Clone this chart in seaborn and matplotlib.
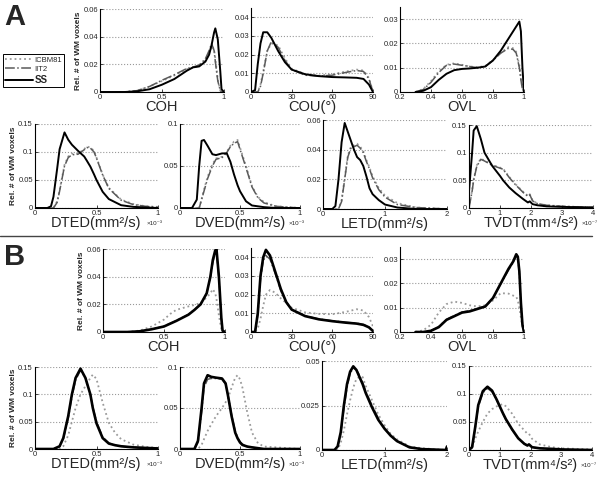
import matplotlib
matplotlib.use("Agg")
import matplotlib.pyplot as plt
from matplotlib.lines import Line2D
import seaborn as sns

# -----------------------------
# DATA
# each panel: shared x grid + one y list per template
# -----------------------------
groups = ["ICBM81", "IIT2", "SS"]

# ---- A, top row ----
a_coh_x = [0, 0.2, 0.3, 0.4, 0.5, 0.6, 0.7, 0.75, 0.8, 0.85, 0.88, 0.9, 0.92, 0.93, 0.95, 0.97, 0.98, 1.0]
a_coh_icbm = [0, 0, 0.001, 0.004, 0.008, 0.012, 0.0165, 0.0175, 0.019, 0.023, 0.028, 0.033, 0.031, 0.024, 0.009, 0.001, 0, 0]
a_coh_iit2 = [0, 0, 0.001, 0.004, 0.0085, 0.0125, 0.017, 0.018, 0.0195, 0.024, 0.030, 0.035, 0.030, 0.022, 0.008, 0.001, 0, 0]
a_coh_ss = [0, 0, 0.0005, 0.002, 0.0053, 0.0094, 0.0154, 0.0178, 0.0185, 0.022, 0.027, 0.034, 0.043, 0.046, 0.038, 0.015, 0.002, 0]

a_cou_x = [0, 3, 5, 7, 9, 12, 15, 20, 25, 30, 40, 50, 60, 70, 78, 83, 87, 90]
a_cou_icbm = [0, 0, 0, 0.004, 0.011, 0.022, 0.026, 0.025, 0.018, 0.0125, 0.0095, 0.0088, 0.0095, 0.011, 0.012, 0.0115, 0.0075, 0]
a_cou_iit2 = [0, 0, 0, 0.003, 0.010, 0.022, 0.027, 0.024, 0.017, 0.012, 0.009, 0.0085, 0.009, 0.0105, 0.0115, 0.011, 0.007, 0]
a_cou_ss = [0, 0.001, 0.015, 0.026, 0.032, 0.032, 0.029, 0.022, 0.016, 0.012, 0.0095, 0.0085, 0.008, 0.0078, 0.0076, 0.007, 0.004, 0]

a_ovl_x = [0.3, 0.35, 0.4, 0.45, 0.5, 0.55, 0.6, 0.65, 0.7, 0.75, 0.8, 0.85, 0.9, 0.93, 0.95, 0.97, 0.98, 0.99, 1.0]
a_ovl_icbm = [0, 0.0012, 0.0045, 0.0085, 0.0112, 0.0118, 0.0112, 0.0105, 0.0102, 0.0107, 0.0132, 0.0162, 0.0185, 0.018, 0.0165, 0.011, 0.006, 0.0015, 0]
a_ovl_iit2 = [0, 0.001, 0.004, 0.008, 0.011, 0.0115, 0.011, 0.0105, 0.010, 0.0105, 0.013, 0.016, 0.018, 0.0175, 0.016, 0.010, 0.005, 0.001, 0]
a_ovl_ss = [0, 0.0005, 0.002, 0.005, 0.0075, 0.009, 0.0095, 0.0097, 0.010, 0.0105, 0.013, 0.017, 0.022, 0.025, 0.027, 0.029, 0.025, 0.010, 0]

# ---- A, bottom row ----
a_dted_x = [0, 0.1, 0.13, 0.15, 0.18, 0.2, 0.24, 0.27, 0.3, 0.35, 0.4, 0.42, 0.45, 0.48, 0.5, 0.55, 0.6, 0.7, 0.8, 0.9, 1.0]
a_dted_icbm = [0, 0, 0, 0, 0.012, 0.032, 0.077, 0.092, 0.097, 0.097, 0.105, 0.110, 0.108, 0.102, 0.090, 0.060, 0.036, 0.015, 0.007, 0.003, 0.002]
a_dted_iit2 = [0, 0, 0, 0, 0.010, 0.030, 0.075, 0.090, 0.095, 0.096, 0.104, 0.108, 0.107, 0.100, 0.089, 0.059, 0.035, 0.014, 0.006, 0.003, 0.001]
a_dted_ss = [0, 0, 0.003, 0.020, 0.070, 0.105, 0.135, 0.122, 0.113, 0.102, 0.092, 0.085, 0.074, 0.060, 0.050, 0.029, 0.016, 0.005, 0.002, 0.001, 0]

a_dved_x = [0, 0.1, 0.14, 0.16, 0.18, 0.2, 0.23, 0.27, 0.3, 0.35, 0.39, 0.42, 0.45, 0.48, 0.5, 0.55, 0.6, 0.65, 0.7, 0.8, 1.0]
a_dved_icbm = [0, 0, 0, 0, 0.011, 0.022, 0.037, 0.052, 0.059, 0.061, 0.067, 0.074, 0.079, 0.081, 0.072, 0.050, 0.026, 0.013, 0.007, 0.002, 0]
a_dved_iit2 = [0, 0, 0, 0, 0.010, 0.020, 0.035, 0.050, 0.058, 0.060, 0.066, 0.073, 0.077, 0.079, 0.070, 0.048, 0.025, 0.012, 0.006, 0.002, 0]
a_dved_ss = [0, 0, 0.010, 0.050, 0.080, 0.081, 0.074, 0.064, 0.063, 0.065, 0.065, 0.055, 0.040, 0.027, 0.020, 0.008, 0.003, 0.002, 0.001, 0, 0]

a_letd_x = [0, 0.15, 0.2, 0.25, 0.3, 0.35, 0.4, 0.45, 0.5, 0.55, 0.6, 0.65, 0.7, 0.75, 0.8, 0.9, 1.0, 1.2, 1.5, 2.0]
a_letd_icbm = [0, 0, 0, 0, 0.006, 0.021, 0.036, 0.042, 0.043, 0.044, 0.042, 0.039, 0.033, 0.028, 0.022, 0.014, 0.009, 0.004, 0.001, 0]
a_letd_iit2 = [0, 0, 0, 0, 0.005, 0.020, 0.035, 0.041, 0.042, 0.043, 0.041, 0.038, 0.032, 0.027, 0.021, 0.013, 0.008, 0.003, 0.001, 0]
a_letd_ss = [0, 0, 0.002, 0.020, 0.045, 0.058, 0.052, 0.046, 0.040, 0.035, 0.033, 0.029, 0.022, 0.014, 0.010, 0.006, 0.003, 0.001, 0, 0]

a_tvdt_x = [0, 0.1, 0.15, 0.25, 0.38, 0.5, 0.75, 1.0, 1.1, 1.3, 1.5, 1.75, 1.9, 1.96, 2.05, 2.2, 2.5, 3.0, 4.0]
a_tvdt_icbm = [0, 0.032, 0.052, 0.077, 0.089, 0.086, 0.078, 0.073, 0.071, 0.056, 0.043, 0.029, 0.022, 0.025, 0.014, 0.008, 0.005, 0.003, 0.001]
a_tvdt_iit2 = [0, 0.030, 0.050, 0.075, 0.088, 0.085, 0.077, 0.072, 0.070, 0.055, 0.042, 0.028, 0.021, 0.024, 0.013, 0.008, 0.005, 0.003, 0.001]
a_tvdt_ss = [0.030, 0.100, 0.140, 0.148, 0.125, 0.100, 0.076, 0.058, 0.050, 0.037, 0.027, 0.016, 0.010, 0.012, 0.007, 0.005, 0.003, 0.002, 0.001]

# ---- B, top row ----
b_coh_x = [0, 0.2, 0.3, 0.4, 0.5, 0.55, 0.6, 0.7, 0.75, 0.8, 0.85, 0.88, 0.9, 0.92, 0.93, 0.95, 0.97, 0.98, 1.0]
b_coh_icbm = [0, 0, 0.001, 0.004, 0.009, 0.013, 0.016, 0.0185, 0.0195, 0.021, 0.025, 0.028, 0.031, 0.028, 0.024, 0.012, 0.002, 0, 0]
b_coh_iit2 = [0, 0, 0.0005, 0.002, 0.0042, 0.0062, 0.0082, 0.0127, 0.0162, 0.0202, 0.028, 0.039, 0.050, 0.057, 0.058, 0.039, 0.010, 0.001, 0]
b_coh_ss = [0, 0, 0.0005, 0.002, 0.004, 0.006, 0.008, 0.0125, 0.016, 0.020, 0.028, 0.040, 0.052, 0.059, 0.060, 0.040, 0.010, 0.001, 0]

b_cou_x = [0, 3, 5, 7, 9, 11, 14, 18, 22, 26, 30, 40, 50, 60, 70, 78, 83, 87, 90]
b_cou_icbm = [0, 0, 0.002, 0.007, 0.014, 0.020, 0.0225, 0.021, 0.018, 0.0155, 0.013, 0.0105, 0.0097, 0.0095, 0.0108, 0.0122, 0.0115, 0.008, 0.003]
b_cou_iit2 = [0, 0, 0.009, 0.028, 0.038, 0.041, 0.039, 0.031, 0.022, 0.016, 0.012, 0.0087, 0.007, 0.006, 0.0052, 0.0047, 0.004, 0.0027, 0.0007]
b_cou_ss = [0, 0, 0.010, 0.030, 0.040, 0.044, 0.041, 0.032, 0.023, 0.016, 0.012, 0.0085, 0.0068, 0.0058, 0.005, 0.0045, 0.0038, 0.0025, 0.0005]

b_ovl_x = [0.3, 0.35, 0.4, 0.45, 0.5, 0.55, 0.6, 0.65, 0.7, 0.75, 0.8, 0.85, 0.9, 0.93, 0.95, 0.96, 0.97, 0.98, 0.99, 1.0]
b_ovl_icbm = [0, 0.0007, 0.003, 0.008, 0.0115, 0.0125, 0.012, 0.011, 0.0105, 0.011, 0.013, 0.016, 0.0158, 0.015, 0.0145, 0.013, 0.010, 0.006, 0.002, 0]
b_ovl_iit2 = [0, 0, 0.0006, 0.0022, 0.0052, 0.0068, 0.0082, 0.0088, 0.0097, 0.0107, 0.014, 0.0198, 0.0255, 0.0285, 0.0315, 0.0305, 0.024, 0.011, 0.003, 0]
b_ovl_ss = [0, 0, 0.0005, 0.002, 0.005, 0.0065, 0.008, 0.0085, 0.0095, 0.0105, 0.014, 0.020, 0.026, 0.029, 0.032, 0.031, 0.025, 0.012, 0.003, 0]

# ---- B, bottom row ----
b_dted_x = [0, 0.15, 0.2, 0.23, 0.27, 0.3, 0.33, 0.37, 0.41, 0.45, 0.47, 0.5, 0.55, 0.6, 0.65, 0.7, 0.8, 0.9, 1.0]
b_dted_icbm = [0, 0, 0, 0.005, 0.025, 0.050, 0.075, 0.100, 0.115, 0.130, 0.136, 0.128, 0.085, 0.048, 0.030, 0.018, 0.008, 0.004, 0.002]
b_dted_iit2 = [0, 0, 0.004, 0.018, 0.056, 0.095, 0.126, 0.144, 0.130, 0.100, 0.077, 0.050, 0.022, 0.011, 0.007, 0.005, 0.003, 0.002, 0.001]
b_dted_ss = [0, 0, 0.005, 0.020, 0.060, 0.100, 0.130, 0.147, 0.130, 0.100, 0.075, 0.047, 0.020, 0.010, 0.007, 0.005, 0.003, 0.002, 0.001]

b_dved_x = [0, 0.12, 0.15, 0.18, 0.2, 0.23, 0.26, 0.3, 0.35, 0.38, 0.4, 0.43, 0.46, 0.48, 0.5, 0.52, 0.56, 0.6, 0.65, 0.7, 1.0]
b_dved_icbm = [0, 0, 0, 0.005, 0.012, 0.022, 0.030, 0.040, 0.050, 0.057, 0.062, 0.075, 0.087, 0.090, 0.085, 0.075, 0.045, 0.020, 0.007, 0.003, 0]
b_dved_iit2 = [0, 0, 0.008, 0.045, 0.075, 0.085, 0.086, 0.086, 0.085, 0.079, 0.066, 0.042, 0.022, 0.014, 0.009, 0.006, 0.003, 0.002, 0.001, 0, 0]
b_dved_ss = [0, 0, 0.010, 0.050, 0.080, 0.090, 0.088, 0.087, 0.086, 0.080, 0.065, 0.040, 0.020, 0.013, 0.008, 0.005, 0.003, 0.002, 0.001, 0, 0]

b_letd_x = [0, 0.2, 0.25, 0.3, 0.35, 0.4, 0.45, 0.5, 0.55, 0.6, 0.65, 0.7, 0.8, 0.9, 1.0, 1.1, 1.2, 1.4, 1.6, 1.98, 2.0]
b_letd_icbm = [0, 0, 0, 0.004, 0.011, 0.020, 0.028, 0.035, 0.040, 0.041, 0.041, 0.036, 0.028, 0.020, 0.014, 0.009, 0.006, 0.002, 0.001, 0, 0.001]
b_letd_iit2 = [0, 0, 0.002, 0.009, 0.023, 0.035, 0.043, 0.046, 0.045, 0.042, 0.038, 0.033, 0.025, 0.018, 0.012, 0.008, 0.005, 0.0015, 0.0005, 0, 0.002]
b_letd_ss = [0, 0, 0.002, 0.010, 0.025, 0.037, 0.044, 0.047, 0.045, 0.041, 0.037, 0.032, 0.024, 0.017, 0.012, 0.008, 0.005, 0.0015, 0.0005, 0, 0.002]

b_tvdt_x = [0, 0.1, 0.2, 0.3, 0.45, 0.6, 0.75, 0.9, 1.0, 1.1, 1.2, 1.4, 1.6, 1.8, 1.9, 1.95, 2.05, 2.3, 2.7, 3.0, 4.0]
b_tvdt_icbm = [0, 0.003, 0.020, 0.033, 0.050, 0.065, 0.073, 0.078, 0.080, 0.082, 0.078, 0.065, 0.047, 0.035, 0.029, 0.029, 0.020, 0.010, 0.005, 0.003, 0.001]
b_tvdt_iit2 = [0, 0.004, 0.038, 0.077, 0.102, 0.110, 0.104, 0.089, 0.077, 0.065, 0.054, 0.036, 0.021, 0.011, 0.008, 0.010, 0.005, 0.003, 0.002, 0.001, 0]
b_tvdt_ss = [0, 0.005, 0.040, 0.080, 0.105, 0.113, 0.106, 0.090, 0.078, 0.066, 0.055, 0.037, 0.021, 0.011, 0.008, 0.010, 0.005, 0.003, 0.002, 0.001, 0]

# -----------------------------
# SETUP
# -----------------------------
sns.set_style("white")
plt.rcParams["font.family"] = ["Liberation Sans", "DejaVu Sans"]

W, H = 601, 484
fig = plt.figure(figsize=(W / 100, H / 100), dpi=100)

STYLE = {
    "ICBM81": dict(color="#9a9a9a", linestyle=":", linewidth=1.3),
    "IIT2": dict(color="#5a5a5a", linestyle="-.", linewidth=1.1),
    "SS": dict(color="black", linestyle="-", linewidth=1.4),
}


def box(x0, y0, x1, y1):
    # pixel box (left, top, right, bottom) -> figure fraction
    return [x0 / W, 1 - y1 / H, (x1 - x0) / W, (y1 - y0) / H]


def panel(rect, x, curves, xlim, xticks, ylim, yticks, xlabel,
          ylabel=False, offset=None, ss_lw=1.4):
    ax = fig.add_axes(box(*rect))
    for name, y in zip(groups, curves):
        st = dict(STYLE[name])
        if name == "SS":
            st["linewidth"] = ss_lw
        sns.lineplot(x=x, y=y, ax=ax, legend=False, **st)
    ax.set_xlim(*xlim)
    ax.set_ylim(*ylim)
    ax.set_xticks(xticks)
    ax.set_yticks(yticks)
    ax.set_xticklabels([f"{v:g}" for v in xticks])
    ax.set_yticklabels([f"{v:g}" for v in yticks])
    for s in ["top", "right"]:
        ax.spines[s].set_visible(False)
    for s in ["left", "bottom"]:
        ax.spines[s].set_color("black")
        ax.spines[s].set_linewidth(0.8)
    ax.yaxis.grid(True, linestyle=":", color="#999999", linewidth=0.8)
    ax.xaxis.grid(False)
    ax.tick_params(direction="in", length=2, width=0.6, labelsize=5.5, pad=1.5,
                   left=True, bottom=True)
    ax.set_xlabel(xlabel, fontsize=10.5, labelpad=-0.5)
    ax.set_ylabel("Rel. # of WM voxels" if ylabel else "", fontsize=6,
                  fontweight="bold", labelpad=1)
    if offset:
        # sits just under the last tick label, like MATLAB's exponent
        ax.text(1.04, -0.19, offset, transform=ax.transAxes, fontsize=4.5,
                ha="right", va="center")
    return ax


# -----------------------------
# PANEL A
# -----------------------------
panel((100, 9, 224, 92), a_coh_x, [a_coh_icbm, a_coh_iit2, a_coh_ss],
      (0, 1), [0, 0.5, 1], (0, 0.06), [0, 0.02, 0.04, 0.06], "COH", ylabel=True)
panel((251, 8, 373, 92), a_cou_x, [a_cou_icbm, a_cou_iit2, a_cou_ss],
      (0, 90), [0, 30, 60, 90], (0, 0.045), [0, 0.01, 0.02, 0.03, 0.04], "COU(°)")
panel((400, 7, 524, 92), a_ovl_x, [a_ovl_icbm, a_ovl_iit2, a_ovl_ss],
      (0.2, 1), [0.2, 0.4, 0.6, 0.8, 1], (0, 0.035), [0, 0.01, 0.02, 0.03], "OVL")

panel((35, 124, 158, 208), a_dted_x, [a_dted_icbm, a_dted_iit2, a_dted_ss],
      (0, 1), [0, 0.5, 1], (0, 0.15), [0, 0.05, 0.1, 0.15], "DTED(mm²/s)",
      ylabel=True, offset="×10⁻³")
panel((180, 124, 300, 208), a_dved_x, [a_dved_icbm, a_dved_iit2, a_dved_ss],
      (0, 1), [0, 0.5, 1], (0, 0.1), [0, 0.05, 0.1], "DVED(mm²/s)", offset="×10⁻³")
panel((323, 120, 447, 209), a_letd_x, [a_letd_icbm, a_letd_iit2, a_letd_ss],
      (0, 2), [0, 1, 2], (0, 0.06), [0, 0.02, 0.04, 0.06], "LETD(mm²/s)")
panel((469, 125, 593, 208), a_tvdt_x, [a_tvdt_icbm, a_tvdt_iit2, a_tvdt_ss],
      (0, 4), [0, 1, 2, 3, 4], (0, 0.15), [0, 0.05, 0.1, 0.15], "TVDT(mm⁴/s²)",
      offset="×10⁻⁷")

# -----------------------------
# PANEL B
# -----------------------------
panel((103, 249, 225, 332), b_coh_x, [b_coh_icbm, b_coh_iit2, b_coh_ss],
      (0, 1), [0, 0.5, 1], (0, 0.06), [0, 0.02, 0.04, 0.06], "COH",
      ylabel=True, ss_lw=1.9)
panel((251, 248, 373, 332), b_cou_x, [b_cou_icbm, b_cou_iit2, b_cou_ss],
      (0, 90), [0, 30, 60, 90], (0, 0.045), [0, 0.01, 0.02, 0.03, 0.04], "COU(°)",
      ss_lw=1.9)
panel((400, 247, 524, 332), b_ovl_x, [b_ovl_icbm, b_ovl_iit2, b_ovl_ss],
      (0.2, 1), [0.2, 0.4, 0.6, 0.8, 1], (0, 0.035), [0, 0.01, 0.02, 0.03], "OVL",
      ss_lw=1.9)

panel((35, 367, 158, 449), b_dted_x, [b_dted_icbm, b_dted_iit2, b_dted_ss],
      (0, 1), [0, 0.5, 1], (0, 0.15), [0, 0.05, 0.1, 0.15], "DTED(mm²/s)",
      ylabel=True, offset="×10⁻³", ss_lw=1.9)
panel((180, 367, 300, 449), b_dved_x, [b_dved_icbm, b_dved_iit2, b_dved_ss],
      (0, 1), [0, 0.5, 1], (0, 0.1), [0, 0.05, 0.1], "DVED(mm²/s)",
      offset="×10⁻³", ss_lw=1.9)
panel((322, 361, 447, 450), b_letd_x, [b_letd_icbm, b_letd_iit2, b_letd_ss],
      (0, 2), [0, 1, 2], (0, 0.05), [0, 0.025, 0.05], "LETD(mm²/s)", ss_lw=1.9)
panel((469, 366, 592, 450), b_tvdt_x, [b_tvdt_icbm, b_tvdt_iit2, b_tvdt_ss],
      (0, 4), [0, 1, 2, 3, 4], (0, 0.15), [0, 0.05, 0.1, 0.15], "TVDT(mm⁴/s²)",
      offset="×10⁻⁷", ss_lw=1.9)

# -----------------------------
# LABELS, LEGEND, SEPARATOR
# -----------------------------
fig.text(15 / W, 1 - 17 / H, "A", fontsize=21, fontweight="bold", ha="center", va="center")
fig.text(15 / W, 1 - 257 / H, "B", fontsize=21, fontweight="bold", ha="center", va="center")

handles = [Line2D([], [], **STYLE[g]) for g in groups]
leg = fig.legend(handles, groups, loc="upper left", bbox_to_anchor=(3 / W, 1 - 54 / H),
                 fontsize=5.5, handlelength=3.6, handletextpad=0.2, labelspacing=0.25,
                 borderpad=0.3, borderaxespad=0, fancybox=False, framealpha=1)
leg.get_frame().set_edgecolor("black")
leg.get_frame().set_linewidth(0.7)
leg.get_texts()[2].set_fontweight("bold")
leg.get_texts()[2].set_fontsize(7)

fig.add_artist(Line2D([0, 592 / W], [1 - 236 / H] * 2, transform=fig.transFigure,
                      color="#444444", linewidth=1.0))

plt.savefig("out.png", dpi=100)
plt.close()
